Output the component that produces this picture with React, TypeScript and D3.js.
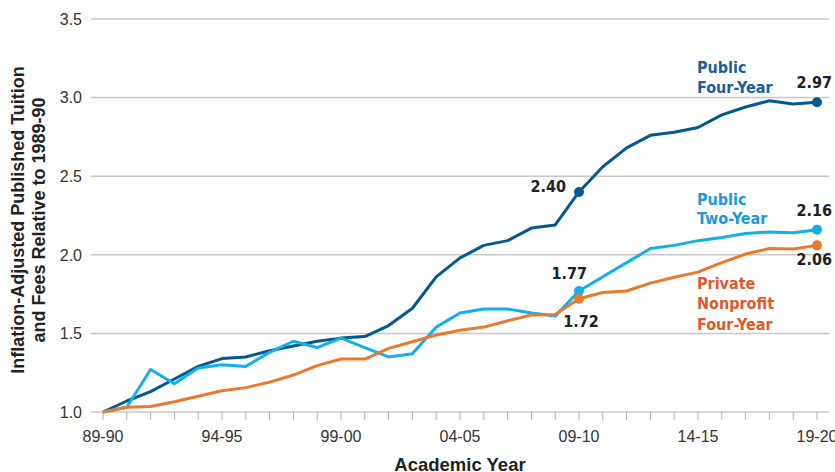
import * as d3 from 'd3';

const years = d3.range(1989, 2020).map((y) => `${String(y % 100).padStart(2, '0')}-${String((y + 1) % 100).padStart(2, '0')}`);
const tickYears = ['89-90', '94-95', '99-00', '04-05', '09-10', '14-15', '19-20'];
const yTicks = [1.0, 1.5, 2.0, 2.5, 3.0, 3.5];

const publicFour = [
  1.0, 1.07, 1.13, 1.21, 1.29, 1.34, 1.35, 1.39, 1.42, 1.45, 1.47, 1.48, 1.55, 1.66, 1.86, 1.98,
  2.06, 2.09, 2.17, 2.19, 2.40, 2.56, 2.68, 2.76, 2.78, 2.81, 2.89, 2.94, 2.98, 2.96, 2.97,
];
const publicTwo = [
  1.0, 1.03, 1.27, 1.18, 1.28, 1.3, 1.29, 1.38, 1.45, 1.41, 1.47, 1.41, 1.35, 1.37, 1.54, 1.63,
  1.655, 1.655, 1.63, 1.61, 1.77, 1.86, 1.95, 2.04, 2.06, 2.09, 2.11, 2.135, 2.145, 2.14, 2.16,
];
const privateFour = [
  1.0, 1.03, 1.035, 1.065, 1.1, 1.135, 1.155, 1.19, 1.235, 1.295, 1.337, 1.337, 1.405, 1.447, 1.49, 1.52,
  1.54, 1.58, 1.617, 1.62, 1.72, 1.76, 1.77, 1.82, 1.857, 1.89, 1.95, 2.005, 2.04, 2.037, 2.06,
];

const width = 835;
const height = 472;

const x = d3.scaleLinear([0, years.length - 1], [103, 817]);
const y = d3.scaleLinear([1, 3.5], [412, 19]);
const line = d3.line<number>((d, i) => x(i), y);

const series = [
  { name: 'four', values: publicFour, color: '#005a91', labelColor: '#1b5f98' },
  { name: 'two', values: publicTwo, color: '#14aeea', labelColor: '#1a9ad8' },
  { name: 'priv', values: privateFour, color: '#e97a2c', labelColor: '#dc5a2c' },
];

const sans = 'Liberation Sans, Arial, sans-serif';
const cond = 'DejaVu Sans Condensed, sans-serif';

export default function App() {
  const i09 = years.indexOf('09-10');
  const last = years.length - 1;
  return (
    <svg width={width} height={height} style={{ position: 'absolute', left: 0, top: 0 }}>
      <rect width={width} height={height} fill="#fff" />
      {yTicks.map((t) => (
        <g key={t}>
          <line x1={91} x2={829} y1={y(t)} y2={y(t)} stroke="#c8c8c8" strokeWidth={1.5} />
          <text x={82} y={y(t)} dy="0.36em" textAnchor="end" fontFamily={sans} fontSize={16} fill="#333">
            {t.toFixed(1)}
          </text>
        </g>
      ))}
      {years.map((yr, i) => (
        <line key={yr} x1={x(i)} x2={x(i)} y1={412} y2={420} stroke="#b0b0b0" strokeWidth={1} />
      ))}
      {tickYears.map((t) => (
        <text key={t} x={x(years.indexOf(t))} y={442} textAnchor="middle" fontFamily={sans} fontSize={16} fill="#333">
          {t}
        </text>
      ))}
      <text x={460} y={471} textAnchor="middle" fontFamily={sans} fontWeight="bold" fontSize={18.5} fill="#222">
        Academic Year
      </text>
      <g transform="translate(0,220) rotate(-90)" fontFamily={sans} fontWeight="bold" fontSize={18} fill="#222" textAnchor="middle">
        <text x={0} y={24}>Inflation-Adjusted Published Tuition</text>
        <text x={0} y={45}>and Fees Relative to 1989-90</text>
      </g>
      {series.map((s) => (
        <path key={s.name} d={line(s.values) ?? ''} fill="none" stroke={s.color} strokeWidth={3} strokeLinejoin="round" />
      ))}
      {series.map((s) => (
        <g key={s.name + 'dots'} fill={s.color}>
          <circle cx={x(i09)} cy={y(s.values[i09])} r={5} />
          <circle cx={x(last)} cy={y(s.values[last])} r={5} />
        </g>
      ))}
      <g fontFamily={cond} fontWeight="bold" fontSize={16}>
        <g fill={series[0].labelColor}>
          <text x={697} y={73}>Public</text>
          <text x={697} y={93}>Four-Year</text>
        </g>
        <g fill={series[1].labelColor}>
          <text x={697} y={205}>Public</text>
          <text x={697} y={224}>Two-Year</text>
        </g>
        <g fill={series[2].labelColor}>
          <text x={697} y={289}>Private</text>
          <text x={697} y={309}>Nonprofit</text>
          <text x={697} y={330}>Four-Year</text>
        </g>
        <g fill="#222">
          <text x={x(last) + 15} y={y(publicFour[last]) - 14.5} textAnchor="end">{publicFour[last].toFixed(2)}</text>
          <text x={x(last) + 15} y={y(publicTwo[last]) - 13.4} textAnchor="end">{publicTwo[last].toFixed(2)}</text>
          <text x={x(last) + 15} y={y(privateFour[last]) + 19.3} textAnchor="end">{privateFour[last].toFixed(2)}</text>
          <text x={x(i09) - 13} y={y(publicFour[i09]) + 0.5} textAnchor="end">{publicFour[i09].toFixed(2)}</text>
          <text x={x(i09) - 9.7} y={y(publicTwo[i09]) - 11.7} textAnchor="middle">{publicTwo[i09].toFixed(2)}</text>
          <text x={x(i09) + 2} y={y(privateFour[i09]) + 28} textAnchor="middle">{privateFour[i09].toFixed(2)}</text>
        </g>
      </g>
    </svg>
  );
}
